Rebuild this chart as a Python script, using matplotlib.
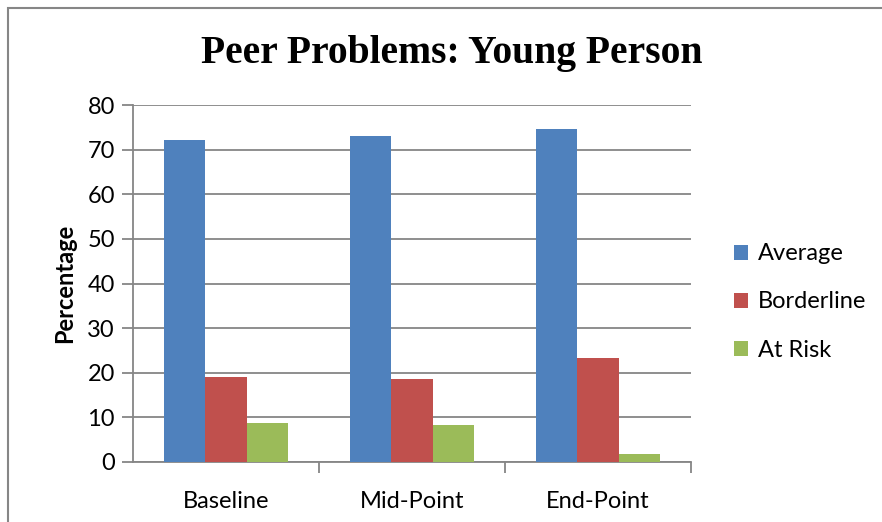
import numpy as np
import matplotlib.pyplot as plt
from matplotlib.patches import Rectangle

categories = ['Baseline', 'Mid-Point', 'End-Point']
average = [72.2, 73.1, 74.7]
borderline = [19.0, 18.6, 23.2]
at_risk = [8.7, 8.2, 1.7]
series_names = ['Average', 'Borderline', 'At Risk']
colors = ['#4F81BD', '#C0504D', '#9BBB59']

plt.rcParams['font.family'] = ['Lato', 'DejaVu Sans']

fig = plt.figure(figsize=(8.82, 5.22), dpi=100)
W, H = 882, 522
ax = fig.add_axes([133 / W, 1 - 462 / H, (691 - 133) / W, (462 - 105) / H])

# outer chart border (right and bottom edges fall outside the picture)
fig.patches.append(Rectangle((8 / W, -0.05), 1.0, 1.05 - 8 / H, transform=fig.transFigure,
                             fill=False, edgecolor='#868686', linewidth=1.5))

x = np.arange(len(categories))
bw = 1 / 4.5
for i, (vals, name) in enumerate(zip([average, borderline, at_risk], series_names)):
    ax.bar(x + (i - 1) * bw, vals, bw, color=colors[i], label=name, zorder=3)

ax.set_xlim(-0.5, 2.5)
ax.set_ylim(0, 80)
ax.set_yticks(range(0, 81, 10))
ax.yaxis.grid(True, color='#868686', linewidth=1.3, zorder=0)
ax.set_xticks([0.5, 1.5, 2.5], minor=False)
ax.set_xticklabels([])
ax.set_xticks(x, minor=True)
ax.set_xticklabels(categories, minor=True, fontsize=17)
ax.tick_params(axis='x', which='minor', length=0, pad=21)
ax.tick_params(axis='x', which='major', length=8, color='#868686', width=1.3)
ax.tick_params(axis='y', length=8, color='#868686', width=1.3, labelsize=17, pad=5)

for s in ['top', 'right']:
    ax.spines[s].set_visible(False)
for s in ['left', 'bottom']:
    ax.spines[s].set_color('#868686')
    ax.spines[s].set_linewidth(1.3)

ax.set_ylabel('Percentage', fontsize=17, fontweight='bold', labelpad=8)

fig.text(452 / W, 1 - 53 / H, 'Peer Problems: Young Person', ha='center', va='center',
         fontsize=28.5, fontweight='bold', family='Liberation Serif')

ax.legend(loc='center left', bbox_to_anchor=(713 / W, 1 - 302 / H), bbox_transform=fig.transFigure,
          frameon=False, fontsize=17, handlelength=0.6, handleheight=0.6,
          labelspacing=1.15, handletextpad=0.4)

fig.savefig('out.png', dpi=100)
